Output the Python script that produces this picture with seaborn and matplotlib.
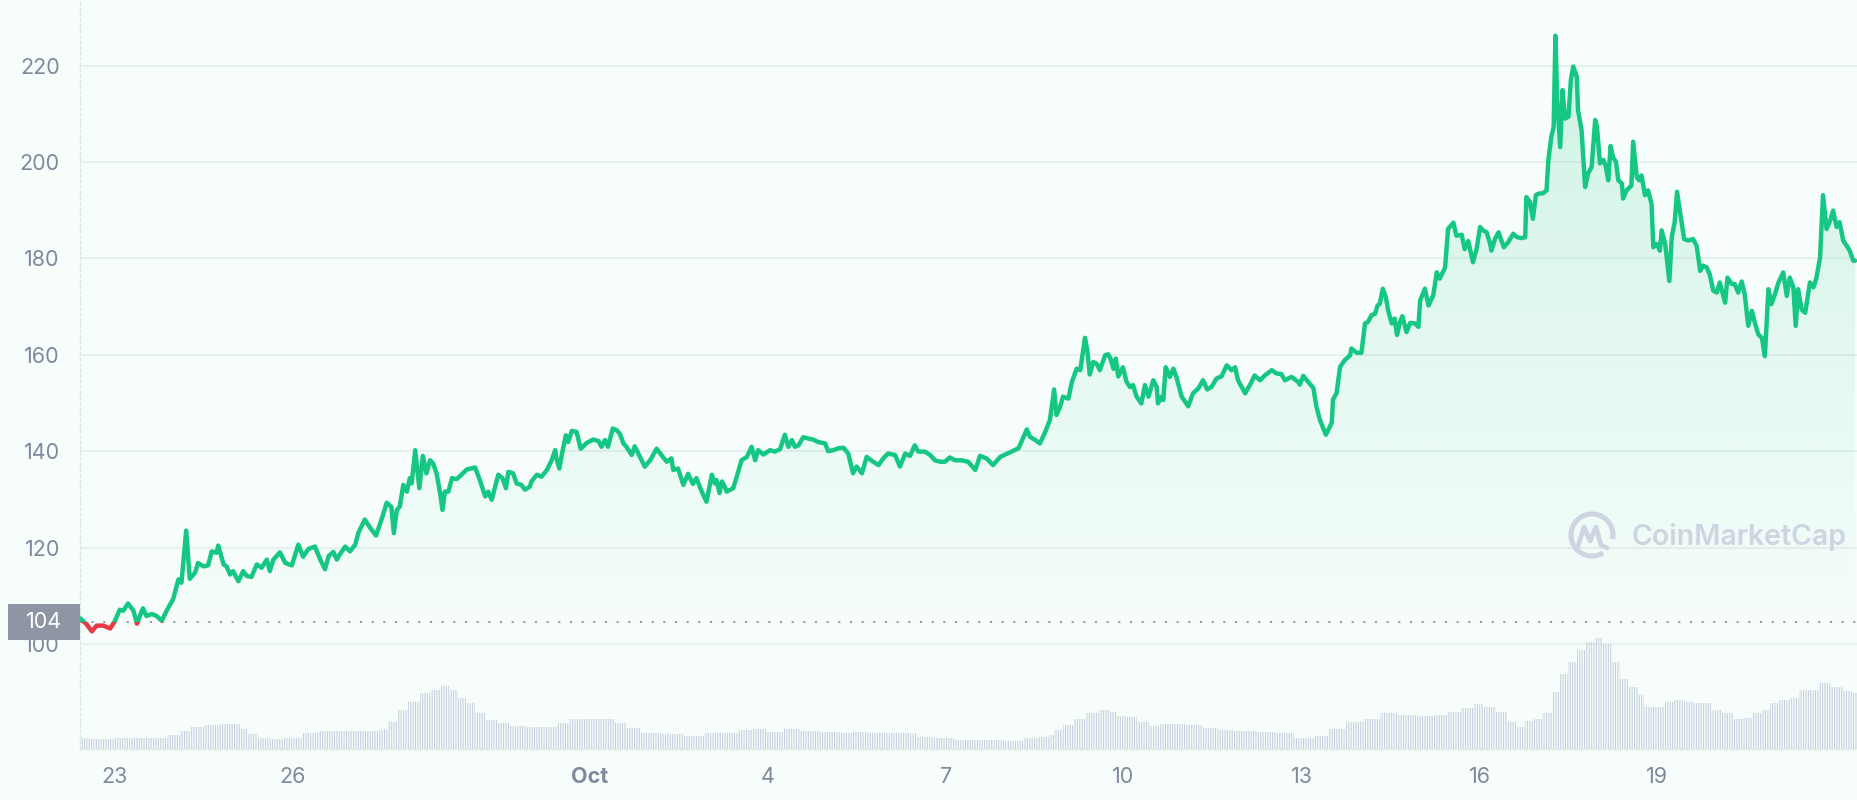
import numpy as np
import pandas as pd
import matplotlib
matplotlib.use("Agg")
import matplotlib.pyplot as plt
import matplotlib.transforms as mtransforms
from matplotlib.patches import Rectangle, Arc
from matplotlib.lines import Line2D
from matplotlib.colors import to_rgb
import seaborn as sns

# ---------------- data ----------------
# x = days since Sep 23, 00:00 ; y = price (USD)
price_days = [
    -0.59, -0.48, -0.39, -0.31, -0.20, -0.08, 0.00, 0.08, 0.14, 0.22, 0.31, 0.37, 0.47, 0.53, 0.62, 0.70,
    0.79, 0.87, 0.98, 1.07, 1.12, 1.20, 1.26, 1.35, 1.40, 1.49, 1.57, 1.63, 1.71, 1.74, 1.83, 1.88, 1.94,
    1.99, 2.08, 2.16, 2.22, 2.30, 2.39, 2.47, 2.56, 2.61, 2.67, 2.78, 2.87, 2.98, 3.09, 3.17, 3.26, 3.37,
    3.46, 3.54, 3.60, 3.68, 3.74, 3.79, 3.88, 3.96, 4.05, 4.10, 4.21, 4.30, 4.40, 4.50, 4.58, 4.66, 4.70,
    4.75, 4.80, 4.86, 4.92, 4.97, 5.00, 5.06, 5.13, 5.19, 5.25, 5.31, 5.36, 5.42, 5.48, 5.52, 5.56, 5.62,
    5.68, 5.76, 5.84, 5.93, 6.07, 6.15, 6.24, 6.29, 6.35, 6.46, 6.53, 6.59, 6.63, 6.71, 6.77, 6.85, 6.91,
    6.99,
    7.02, 7.11, 7.19, 7.28, 7.36, 7.42, 7.44, 7.49, 7.53, 7.60, 7.64, 7.70, 7.78, 7.85, 7.95, 8.06, 8.15,
    8.20, 8.26, 8.31, 8.39, 8.46, 8.51, 8.57, 8.62, 8.71, 8.76, 8.85, 8.93, 9.02, 9.13, 9.21, 9.30, 9.38,
    9.41, 9.49, 9.58, 9.66, 9.74, 9.80, 9.89, 9.97, 10.06, 10.11, 10.14, 10.19, 10.23, 10.28, 10.31,
    10.42, 10.48, 10.56, 10.65, 10.73, 10.79, 10.84, 10.93, 11.04, 11.12, 11.21, 11.29, 11.35, 11.41,
    11.46, 11.52, 11.60, 11.69, 11.77, 11.85, 11.97, 12.02, 12.11, 12.19, 12.28, 12.36, 12.44, 12.50,
    12.59, 12.67, 12.78, 12.87, 12.95, 13.03, 13.15, 13.23, 13.32, 13.40, 13.48, 13.54, 13.65, 13.74,
    13.82, 13.91, 13.99, 14.07, 14.16, 14.27, 14.38, 14.50, 14.58, 14.69, 14.80, 14.92,
    15.23, 15.37, 15.42, 15.51, 15.59, 15.68, 15.76, 15.83, 15.87, 15.93, 15.98, 16.07, 16.13, 16.21,
    16.27, 16.35, 16.39, 16.43, 16.49, 16.55, 16.60, 16.69, 16.74, 16.78, 16.83, 16.87, 16.91, 16.99,
    17.05, 17.11, 17.16, 17.22, 17.30, 17.36, 17.42, 17.50, 17.56, 17.58, 17.64, 17.67, 17.71, 17.78,
    17.84, 17.89, 17.98, 18.09, 18.17, 18.26, 18.34, 18.41, 18.48, 18.57, 18.65, 18.74, 18.82, 18.88,
    18.93, 19.05, 19.13, 19.21, 19.30, 19.38, 19.50, 19.58, 19.66, 19.72, 19.83, 19.94,
    19.97, 20.03, 20.11, 20.20, 20.25, 20.31, 20.41, 20.51, 20.53, 20.59, 20.65, 20.73, 20.82, 20.84,
    20.93, 21.01, 21.07, 21.12, 21.18, 21.24, 21.28, 21.32, 21.37, 21.42, 21.46, 21.52, 21.57, 21.61,
    21.66, 21.70, 21.77, 21.83, 21.91, 21.97, 22.00, 22.08, 22.14, 22.22, 22.28, 22.33, 22.42, 22.47,
    22.56, 22.61, 22.70, 22.75, 22.81, 22.89, 22.95,
    23.01, 23.06, 23.12, 23.18, 23.20, 23.26, 23.32, 23.37, 23.41, 23.48, 23.57, 23.63, 23.71, 23.77,
    23.79, 23.85, 23.90, 23.95, 23.99, 24.07, 24.13, 24.16, 24.21, 24.25, 24.28, 24.31, 24.36, 24.40,
    24.44, 24.50, 24.54, 24.58, 24.64, 24.66, 24.72, 24.78, 24.83, 24.89, 24.95, 24.98, 25.03, 25.09,
    25.13, 25.17, 25.21, 25.25, 25.30, 25.34, 25.40, 25.42, 25.48, 25.56, 25.59, 25.65, 25.69, 25.73,
    25.79, 25.84, 25.90, 25.93, 25.99, 26.04, 26.07, 26.13, 26.20, 26.24, 26.29, 26.33, 26.38, 26.45,
    26.52, 26.60, 26.66, 26.72, 26.77, 26.83, 26.88, 26.94, 27.00, 27.05, 27.14, 27.18, 27.25, 27.30,
    27.36, 27.42, 27.47, 27.53, 27.59, 27.64, 27.70, 27.76, 27.81, 27.87, 27.92, 27.98, 28.04, 28.12,
    28.18, 28.23, 28.29, 28.33, 28.37, 28.43, 28.49, 28.57, 28.63, 28.68, 28.74, 28.79, 28.85, 28.91,
    28.96, 29.02, 29.07, 29.13, 29.19, 29.24, 29.30, 29.33,
]
price_usd = [
    105.3, 104.1, 102.6, 103.8, 103.8, 103.2, 104.8, 107.1, 106.9, 108.4, 106.9, 104.2, 107.4, 105.8, 106.2, 105.8,
    104.8, 106.9, 109.3, 113.4, 112.7, 123.5, 113.5, 114.8, 116.8, 116.1, 116.3, 119.2, 118.9, 120.4, 116.5, 116.1, 114.4,
    115.1, 113.0, 115.1, 114.1, 113.9, 116.5, 115.8, 117.5, 115.1, 117.5, 119.0, 116.8, 116.3, 120.6, 118.1, 119.7, 120.2,
    117.5, 115.5, 118.2, 119.1, 117.5, 118.6, 120.2, 119.2, 120.6, 123.0, 125.8, 124.1, 122.5, 126.1, 129.3, 128.4, 123.0,
    127.8, 128.5, 133.0, 131.6, 134.4, 133.3, 140.2, 132.3, 139.0, 135.4, 138.1, 137.5, 135.4, 131.3, 127.8, 131.6, 131.6,
    134.4, 134.2, 135.1, 136.2, 136.6, 134.0, 130.6, 131.6, 129.9, 135.1, 134.4, 132.3, 135.7, 135.4, 133.3, 133.0, 132.0,
    132.6,
    133.7, 135.1, 134.7, 136.1, 138.1, 140.2, 138.5, 136.4, 139.2, 143.3, 141.9, 144.2, 144.0, 140.5, 141.7, 142.4, 142.1,
    140.9, 142.3, 140.9, 144.7, 144.3, 143.6, 141.6, 140.9, 139.2, 141.0, 138.8, 136.8, 138.1, 140.5, 139.2, 137.8, 138.5,
    136.1, 136.4, 133.0, 135.3, 133.2, 134.4, 131.6, 129.5, 135.1, 133.3, 134.0, 131.3, 133.7, 132.6, 131.6,
    132.3, 134.7, 138.1, 138.8, 140.9, 138.1, 140.2, 139.3, 140.2, 139.9, 140.4, 143.4, 140.9, 142.3,
    140.9, 141.2, 142.9, 142.6, 142.4, 141.9, 141.6, 140.0, 140.2, 140.6, 140.7, 139.5, 135.4, 136.8,
    135.4, 138.8, 137.8, 137.1, 138.5, 139.5, 139.2, 136.8, 139.5, 139.0, 141.2, 139.9, 139.9, 139.2,
    138.1, 137.8, 137.8, 138.7, 138.1, 138.1, 137.8, 136.1, 139.0, 138.5, 137.1, 138.8,
    140.6, 144.5, 143.0, 142.3, 141.6, 144.0, 146.5, 152.8, 147.5, 149.2, 151.3, 150.9, 154.4, 157.1,
    156.8, 163.5, 160.9, 155.9, 158.5, 158.1, 156.8, 159.9, 160.1, 159.2, 157.1, 159.2, 155.5, 157.4,
    154.4, 153.3, 153.7, 151.3, 149.9, 153.7, 151.3, 154.7, 153.3, 149.9, 151.3, 150.6, 157.4, 155.4,
    157.1, 155.4, 151.3, 149.3, 152.0, 153.0, 154.7, 152.8, 153.3, 155.1, 155.5, 157.8, 156.8, 157.4,
    154.7, 152.0, 153.7, 155.7, 154.7, 155.7, 156.8, 156.1, 156.0, 154.7, 155.4, 154.4,
    153.8, 155.6, 154.4, 153.1, 149.3, 146.5, 143.4, 145.9, 150.7, 152.0, 157.5, 158.9, 159.9, 161.3,
    160.4, 160.4, 166.5, 166.8, 168.2, 168.5, 170.2, 170.6, 173.7, 172.0, 169.2, 166.5, 167.5, 164.1,
    166.8, 168.0, 164.7, 166.6, 166.5, 165.8, 171.3, 173.7, 170.2, 172.3, 177.1, 175.8, 178.1, 186.1,
    187.4, 184.7, 184.9, 181.9, 183.6, 179.2, 181.9,
    186.5, 185.8, 185.4, 183.0, 181.6, 184.0, 185.4, 183.7, 182.3, 183.3, 185.1, 184.4, 184.2, 184.4,
    192.7, 191.7, 188.2, 193.1, 193.4, 193.5, 194.1, 200.3, 205.2, 207.3, 226.2, 212.8, 203.1, 214.9,
    209.0, 209.4, 217.0, 219.8, 217.7, 210.8, 206.6, 194.8, 197.6, 199.0, 208.7, 207.3, 199.7, 200.4,
    199.0, 196.2, 203.3, 201.0, 200.0, 196.2, 195.5, 192.4, 194.1, 195.1, 204.2, 196.9, 196.2, 197.2,
    193.1, 194.1, 191.3, 182.3, 183.0, 181.6, 185.8, 183.0, 175.3, 184.4, 187.5, 193.8, 189.6, 184.0,
    183.7, 184.0, 182.6, 177.4, 178.5, 178.1, 176.7, 173.3, 172.9, 175.0, 170.8, 176.0, 174.7, 174.7,
    172.9, 175.2, 172.6, 166.0, 169.1, 166.7, 164.2, 163.5, 159.7, 173.6, 170.5, 172.6, 175.0, 177.1,
    172.2, 176.0, 174.0, 166.0, 173.6, 169.4, 168.7, 175.0, 174.0, 176.0, 180.2, 193.1, 186.1, 187.8,
    189.9, 186.5, 187.5, 183.7, 182.6, 181.6, 179.5, 179.5,
]

# trading volume (relative units)
volume_days = [
    -0.58, -0.29, 0.29, 0.78, 1.02, 1.16, 1.36, 1.65, 1.84, 2.04, 2.17, 2.28, 2.51, 2.71, 3.00, 3.29,
    3.59, 3.88, 4.36, 4.55, 4.65, 4.84, 5.04, 5.23, 5.43, 5.56, 5.71, 5.86, 6.00, 6.15, 6.34, 6.54,
    6.78, 7.06, 7.35, 7.55, 7.74, 8.04, 8.33, 8.51, 8.71, 9.00, 9.39, 9.78, 10.06, 10.35, 10.65, 10.84,
    11.12, 11.43, 11.66, 12.10, 12.34, 12.49, 12.88, 13.35, 13.65, 13.94, 14.33, 14.82, 15.20, 15.41,
    15.69, 15.79, 15.88, 16.08, 16.26, 16.47, 16.70, 16.80, 16.94, 17.14, 17.33, 17.53, 17.71, 17.92,
    18.20, 18.49, 18.68, 19.06, 19.45, 19.74, 19.99, 20.12, 20.33, 20.61, 20.90, 21.19, 21.44, 21.78,
    22.16, 22.35, 22.54, 22.84, 22.97, 23.18, 23.36, 23.56, 23.70, 23.85, 23.98, 24.14, 24.29, 24.42,
    24.58, 24.71, 24.86, 25.02, 25.15, 25.30, 25.44, 25.59, 25.74, 25.82, 26.03, 26.21, 26.36, 26.50,
    26.70, 26.83, 26.99, 27.18, 27.37, 27.52, 27.66, 27.85, 27.95, 28.15, 28.34, 28.44, 28.63, 28.83,
    29.02, 29.22, 29.36,
]
volume_vals = [
    11.3, 10.0, 10.7, 10.7, 14.0, 18.3, 21.7, 24.0, 25.3, 24.7, 20.0, 14.7, 11.3, 10.3, 11.3, 15.7,
    18.3, 17.7, 17.7, 19.0, 27.3, 39.0, 47.3, 55.7, 59.0, 63.3, 59.0, 50.7, 45.7, 35.7, 29.0, 25.7,
    23.0, 22.3, 22.3, 25.7, 30.0, 30.0, 30.0, 25.7, 20.7, 16.3, 14.7, 13.3, 15.7, 16.3, 19.0, 20.0,
    17.3, 20.0, 17.7, 17.3, 15.7, 17.3, 16.3, 16.3, 12.3, 10.7, 9.3, 9.0, 8.3, 11.3,
    11.7, 14.0, 19.0, 24.0, 30.0, 35.7, 39.0, 37.3, 33.3, 32.3, 27.3, 23.3, 25.0, 24.7,
    24.0, 21.3, 19.0, 18.3, 17.3, 15.7, 11.3, 10.7, 13.0, 19.7, 26.7, 30.0, 35.7, 34.0,
    33.3, 34.0, 37.3, 41.3, 44.7, 42.3, 37.3, 27.3, 22.3, 28.0, 29.7, 35.7, 57.3, 75.7,
    87.3, 99.0, 107.3, 111.3, 105.7, 87.3, 70.7, 62.3, 54.0, 42.3, 42.3, 46.7, 49.0, 47.3,
    45.7, 45.7, 39.0, 35.7, 30.0, 30.7, 35.7, 39.0, 45.7, 49.0, 51.3, 59.0, 59.0, 65.7,
    62.3, 58.0, 56.3,
]

tick_days = [0, 3, 8, 11, 14, 17, 20, 23, 26]
tick_labels = ["23", "26", "Oct", "4", "7", "10", "13", "16", "19"]
price_ticks = [100, 120, 140, 160, 180, 200, 220]
ref_price = 104.6
ref_label = "104"

# ---------------- style ----------------
GREEN = "#16c784"
RED = "#ea3943"
BG = "#f7fdfb"
GRID = "#e1eeea"
TXT = "#808a9d"
VOL = "#c3cfdd"
REFC = "#8f95a2"

sns.set_style("white")
plt.rcParams["font.family"] = ["Inter", "DejaVu Sans"]
plt.rcParams["hatch.linewidth"] = 0.75

W, H = 1858, 800
fig = plt.figure(figsize=(W / 100, H / 100), dpi=100, facecolor=BG)
ax = fig.add_axes([80 / W, 51 / H, 1778 / W, 749 / H])
ax.set_facecolor(BG)
XLIM = (-0.59, 29.38)
YLIM = (78.2, 233.6)

df = pd.DataFrame({"day": price_days, "price": price_usd})

# gradient area under the price line
grad = np.zeros((256, 1, 4))
grad[..., :3] = to_rgb(GREEN)
grad[:, 0, 3] = np.linspace(0.18, 0.0, 256)
im = ax.imshow(grad, extent=[XLIM[0], XLIM[1], 100, max(price_usd)], aspect="auto",
               origin="upper", zorder=1, interpolation="bilinear")
poly = ax.fill_between(df["day"], df["price"], YLIM[0], color="none", lw=0)
im.set_clip_path(poly.get_paths()[0], transform=ax.transData)

# reference dotted line at the opening price
ax.axhline(ref_price, color=REFC, lw=1.4, ls=(0, (1, 5)), zorder=3)

# price line: green above opening price, red below
LW = 3.2
sns.lineplot(data=df, x="day", y="price", ax=ax, color=GREEN, lw=LW,
             estimator=None, sort=False, zorder=4)
green_line = ax.lines[-1]
sns.lineplot(data=df, x="day", y="price", ax=ax, color=RED, lw=LW,
             estimator=None, sort=False, zorder=4)
red_line = ax.lines[-1]
for ln in (green_line, red_line):
    ln.set_solid_joinstyle("round")
    ln.set_solid_capstyle("round")
clip_up = Rectangle((XLIM[0] - 1, ref_price), 40, 300, transform=ax.transData)
clip_dn = Rectangle((XLIM[0] - 1, 0), 40, ref_price, transform=ax.transData)
green_line.set_clip_path(clip_up)
red_line.set_clip_path(clip_dn)

# axes cosmetics
ax.set_xlim(*XLIM)
ax.set_ylim(*YLIM)
ax.set_xlabel("")
ax.set_ylabel("")
ax.set_yticks(price_ticks)
ax.set_yticklabels([str(v) for v in price_ticks])
ax.set_xticks(tick_days)
ax.set_xticklabels(tick_labels)
ax.tick_params(axis="y", length=0, pad=14.5, labelsize=15.5, labelcolor=TXT)
ax.tick_params(axis="x", length=4, width=1.3, color=REFC, pad=9, labelsize=15.5, labelcolor=TXT)
for lab in ax.get_xticklabels():
    if lab.get_text() == "Oct":
        lab.set_fontweight("bold")
ax.yaxis.grid(True, color=GRID, lw=1.1, zorder=0)
ax.xaxis.grid(False)
for s in ["top", "right"]:
    ax.spines[s].set_visible(False)
for s in ["left", "bottom"]:
    ax.spines[s].set_color("#d3e9e1")
    ax.spines[s].set_linestyle((0, (2, 2)))
    ax.spines[s].set_linewidth(1.0)

# opening price badge
trans = mtransforms.blended_transform_factory(fig.transFigure, ax.transData)
ax.add_patch(Rectangle((8 / W, ref_price - 3.73), 72 / W, 7.47, transform=trans,
                       facecolor="#8e96a4", edgecolor="none", clip_on=False, zorder=8))
ax.text(44 / W, ref_price, ref_label, transform=trans, ha="center", va="center",
        color="white", fontsize=15.5, zorder=9, clip_on=False)

# volume band
axv = ax.twinx()
axv.set_ylim(0, max(volume_vals) * 6.75)
d = np.array(volume_days)
mids = (d[:-1] + d[1:]) / 2
left = np.concatenate([[d[0]], mids])
right = np.concatenate([mids, [XLIM[1]]])
axv.bar(left, volume_vals, width=right - left, align="edge", facecolor="none",
        edgecolor=VOL, hatch="|||||||", lw=0, zorder=1)
axv.set_xlim(*XLIM)
axv.set_yticks([])
for s in axv.spines.values():
    s.set_visible(False)

# watermark
def fx(px):
    return px / W

def fy(py):
    return 1 - py / H

WM = "#cdd5e0"
fig.text(fx(1632), fy(537), "CoinMarketCap", fontsize=20.5, fontweight="semibold",
         color=WM, ha="left", va="center")
fig.add_artist(Arc((fx(1592), fy(535)), 42 / W, 42 / H, theta1=-25, theta2=285,
                   transform=fig.transFigure, color=WM, lw=3.6))
fig.add_artist(Line2D([fx(1578), fx(1584), fx(1590), fx(1596), fx(1601), fx(1607)],
                      [fy(546), fy(527), fy(541), fy(527), fy(545), fy(548)],
                      transform=fig.transFigure, color=WM, lw=3.4,
                      solid_joinstyle="round", solid_capstyle="round"))

fig.savefig("out.png", dpi=100, facecolor=BG)
